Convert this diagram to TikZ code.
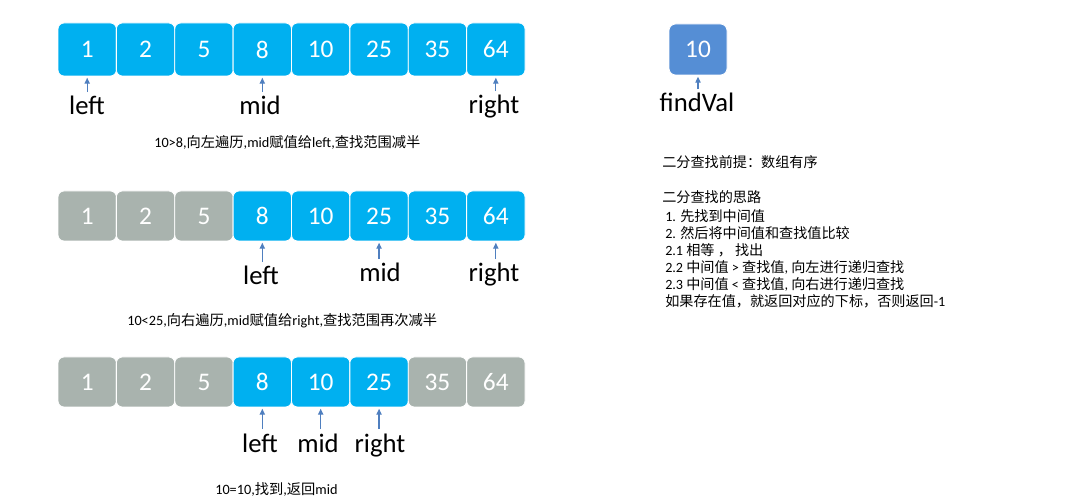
\documentclass[tikz,border=0pt]{standalone}
\usepackage{fontspec}
\setmainfont{Carlito}
\newfontfamily\cjk{Noto Sans CJK SC}
\usetikzlibrary{arrows.meta}
\definecolor{cyanbox}{HTML}{00B0F0}
\definecolor{graybox}{HTML}{A9B3AE}
\definecolor{findbox}{HTML}{558ED5}
\definecolor{arrowc}{HTML}{4F7FBF}
\newcommand\zh[1]{{\cjk #1}}
\begin{document}
\begin{tikzpicture}[x=0.75pt,y=-0.75pt,
 cell/.style={rounded corners=4.5pt, draw=white, line width=0.6pt, text=white, minimum width=43.78pt, inner sep=0pt, font=\fontsize{19}{22}\selectfont},
 onbox/.style={cell, fill=cyanbox}, offbox/.style={cell, fill=graybox},
 ptr/.style={font=\fontsize{20}{23}\selectfont, anchor=base, inner sep=0pt},
 captxt/.style={font=\fontsize{10.7}{12}\selectfont, anchor=base west, inner sep=0pt},
 notetxt/.style={font=\fontsize{10.6}{12}\selectfont, anchor=base west, inner sep=0pt},
 arr/.style={draw=arrowc, line width=0.9pt, -{Triangle[width=4pt,length=4.5pt]}, shorten <=3pt, shorten >=1pt}]
\useasboundingbox (0,0) rectangle (1079,502);

% Row 1
\foreach \v [count=\i] in {1,2,5,8,10,25,35,64}
  \node[onbox, minimum height=39.75pt] (a\i) at ({58+58.375*(\i-0.5)},49.5) {\v};
\node[ptr] (aL) at (87,115) {left};
\node[ptr] (aM) at (260,115) {mid};
\node[ptr] (aR) at (494,114) {right};
\draw[arr] (a1.south |- aL.north) -- (a1.south);
\draw[arr] (a4.south |- aM.north) -- (a4.south);
\draw[arr] (a8.south |- aR.north) -- (a8.south);
\node[captxt] (t1) at (154,148) {10>8,\zh{向左遍历},mid\zh{赋值给}left,\zh{查找范围减半}};

% Row 2
\foreach \v/\s [count=\i] in {1/offbox,2/offbox,5/offbox,8/onbox,10/onbox,25/onbox,35/onbox,64/onbox}
  \node[\s, minimum height=37.5pt] (b\i) at ({58+58.375*(\i-0.5)},216) {\v};
\node[ptr] (bL) at (261,285) {left};
\node[ptr] (bM) at (380,282) {mid};
\node[ptr] (bR) at (494,282) {right};
\draw[arr] (b4.south |- bL.north) -- (b4.south);
\draw[arr] (b6.south |- bM.north) -- (b6.south);
\draw[arr] (b8.south |- bR.north) -- (b8.south);
\node[captxt] (t2) at (127,326) {10<25,\zh{向右遍历},mid\zh{赋值给}right,\zh{查找范围再次减半}};

% Row 3
\foreach \v/\s [count=\i] in {1/offbox,2/offbox,5/offbox,8/onbox,10/onbox,25/onbox,35/offbox,64/offbox}
  \node[\s, minimum height=37.5pt] (c\i) at ({58+58.375*(\i-0.5)},382) {\v};
\node[ptr] (cL) at (260,452) {left};
\node[ptr] (cM) at (318,452) {mid};
\node[ptr] (cR) at (380,452) {right};
\draw[arr] (c4.south |- cL.north) -- (c4.south);
\draw[arr] (c5.south |- cM.north) -- (c5.south);
\draw[arr] (c6.south |- cR.north) -- (c6.south);
\node[captxt] (t3) at (215,494) {10=10,\zh{找到},\zh{返回}mid};

% findVal
\node[cell, fill=findbox, minimum width=43.5pt, minimum height=38.25pt, rounded corners=5pt] (fv) at (698,49.5) {10};
\node[ptr] (fvL) at (697,112) {findVal};
\draw[arr] (fv.south |- fvL.north) -- (fv.south);

% Notes
\node[notetxt] (n1) at (662,168) {\zh{二分查找前提：数组有序}};
\node[notetxt] (n2) at (662,203) {\zh{二分查找的思路}};
\node[notetxt] (n3) at (665,222) {1. \zh{先找到中间值}};
\node[notetxt] (n4) at (665,239) {2. \zh{然后将中间值和查找值比较}};
\node[notetxt] (n5) at (665,256) {2.1 \zh{相等 ， 找出}};
\node[notetxt] (n6) at (665,273) {2.2 \zh{中间值} > \zh{查找值}, \zh{向左进行递归查找}};
\node[notetxt] (n7) at (665,290) {2.3 \zh{中间值} < \zh{查找值}, \zh{向右进行递归查找}};
\node[notetxt] (n8) at (665,307) {\zh{如果存在值，就返回对应的下标，否则返回}-1};
\end{tikzpicture}
\end{document}
